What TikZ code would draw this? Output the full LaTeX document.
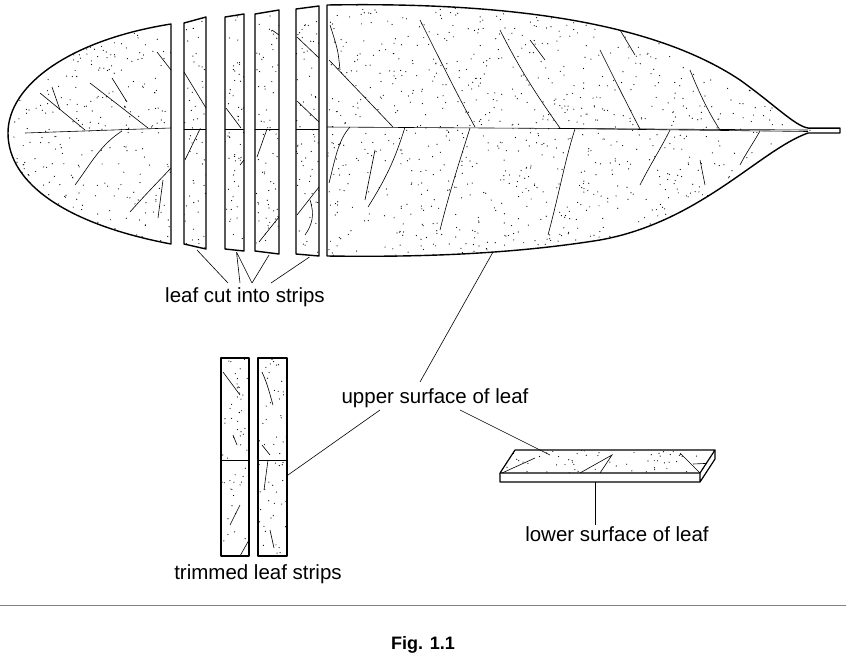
\documentclass[tikz,border=0pt]{standalone}
\usepackage{fontspec}
\setmainfont{Liberation Sans}
\begin{document}
\begin{tikzpicture}[x=1pt,y=-1pt,
  outline/.style={line width=1.4pt,line join=round},
  vein/.style={line width=0.6pt},
  lead/.style={line width=0.6pt},
  lbl/.style={font=\fontsize{20.5}{24}\selectfont,inner sep=1pt}]
\useasboundingbox (0,0) rectangle (846,657);
\pgfmathsetseed{7}
\newcommand{\stipple}[5]{% x0 y0 w h n
  \foreach \k in {1,...,#5}{\pgfmathsetmacro{\px}{#1+rnd*#3}\pgfmathsetmacro{\py}{#2+rnd*#4}\fill (\px,\py) circle (0.6);}}
% left tip
\def\tip{(171,24) .. controls (70,40) and (8,85) .. (8,133) .. controls (8,185) and (70,225) .. (171,244) -- cycle}
\begin{scope}\clip \tip; \stipple{0}{20}{175}{230}{380}
 \draw[vein] (25,133) -- (171,128);
 \draw[vein] (85,130) -- (40,93); \draw[vein] (60,110)--(52,87);
 \draw[vein] (148,128) -- (90,83); \draw[vein] (127,102)--(112,78);
 \draw[vein] (122,131) .. controls (100,145) and (90,165) .. (75,185);
 \draw[vein] (171,168) .. controls (155,185) and (145,195) .. (130,212);
 \draw[vein] (163,180) -- (158,218); \draw[vein] (171,70) -- (157,52);
\end{scope}
\draw[outline] \tip;
% strips
\foreach \n/\a/\b/\ta/\tb/\ba/\bb in {s1/184/206/23/17/244/249, s2/225/244/17/14/249/251, s3/255/279/14/10/251/254, s4/296/319/9/6/254/256}{
  \begin{scope}\clip (\a,\ta) -- (\b,\tb) -- (\b,\bb) -- (\a,\ba) -- cycle;
    \stipple{\a}{5}{25}{255}{70}
    \draw[vein] (\a,129) -- (\b,129);
  \end{scope}
  \draw[outline] (\a,\ta) -- (\b,\tb) -- (\b,\bb) -- (\a,\ba) -- cycle;
  \coordinate (\n) at ({(\a+\b)/2+2},{\bb+1});
}
\draw[vein] (184,72)--(206,108); \draw[vein] (200,129)--(185,160);
\draw[vein] (226,108)--(241,128); \draw[vein] (240,165)--(244,160);
\draw[vein] (267,129)--(257,157); \draw[vein] (272,30)--(279,35); \draw[vein] (259,242)--(279,217);
\draw[vein] (297,37)--(319,58); \draw[vein] (297,101)--(319,122); \draw[vein] (297,215)--(319,187);
\draw[vein] (310,200) .. controls (315,215) and (312,225) .. (305,235);
% main leaf
\def\mainleaf{(327,5) .. controls (500,2) and (650,20) .. (740,80) .. controls (775,105) and (795,126) .. (808,128) -- (840,128) -- (840,133) -- (808,133) .. controls (760,150) and (700,222) .. (600,240) .. controls (500,256) and (400,257) .. (327,256) -- cycle}
\begin{scope}\clip \mainleaf; \stipple{327}{0}{490}{260}{1100}
 \draw[vein] (327,127) -- (808,130); \draw[vein] (560,128.5)--(808,131.5);
 \draw[vein] (329,60) -- (393,127); \draw[vein] (330,25) .. controls (338,50) .. (340,70);
 \draw[vein] (350,127) .. controls (338,140) and (335,160) .. (329,183);
 \draw[vein] (405,127) .. controls (395,160) and (385,180) .. (368,207);
 \draw[vein] (470,128) .. controls (460,160) and (450,190) .. (440,230);
 \draw[vein] (575,129) .. controls (565,160) and (560,190) .. (548,235);
 \draw[vein] (670,130) .. controls (660,150) and (650,165) .. (640,185);
 \draw[vein] (760,131) .. controls (752,145) and (745,155) .. (740,165);
 \draw[vein] (420,20) .. controls (440,60) and (460,100) .. (475,127);
 \draw[vein] (500,30) .. controls (520,70) and (540,100) .. (560,128);
 \draw[vein] (600,50) .. controls (615,80) and (630,110) .. (640,129);
 \draw[vein] (690,70) .. controls (700,95) and (710,115) .. (720,130);
 \draw[vein] (530,40) -- (545,60); \draw[vein] (620,30) -- (635,55);
 \draw[vein] (375,150) -- (365,200); \draw[vein] (700,160) -- (705,185);
\end{scope}
\draw[outline] \mainleaf;
\draw[vein] (808,128) -- (840,128);
% labels
\node[lbl] (cut) at (245,297) {leaf cut into strips};
\coordinate (c1) at (228,283); \coordinate (c2) at (240,283); \coordinate (c3) at (252,283); \coordinate (c4) at (271,283);
\draw[lead] (c1) -- (s1) (c2) -- (s2) (c3) -- (s3) (c4) -- (s4) (c3) -- (s2);
\node[lbl] (up) at (435,398) {upper surface of leaf};
\coordinate (uplf) at (493,252);
\draw[lead] (420,382) -- (uplf);
% trimmed strips
\begin{scope}\clip (221,358) rectangle (249,556) (258,358) rectangle (287,556);
 \stipple{221}{358}{66}{198}{130}
 \draw[vein] (221,460) -- (287,460);
 \draw[vein] (223,372)--(240,395); \draw[vein] (233,435)--(237,445); \draw[vein] (230,525)--(240,505);
 \draw[vein] (262,372) .. controls (268,385) and (270,395) .. (273,405);
 \draw[vein] (262,445)--(270,455); \draw[vein] (268,460)--(264,490); \draw[vein] (270,530)--(274,548);
 \draw[vein] (240,556)--(249,540);
\end{scope}
\draw[outline,line width=1.2pt] (221,358) rectangle (249,556);
\draw[outline,line width=1.2pt] (258,358) rectangle (287,556);
\coordinate (ts) at (288,475);
\draw[lead] (380,410) -- (ts);
\node[lbl] (trim) at (258,574) {trimmed leaf strips};
% box
\begin{scope}\clip (515,450) -- (715,450) -- (700,473) -- (500,473) -- cycle;
 \stipple{500}{450}{215}{23}{60}
 \draw[vein] (502,473) -- (535,458); \draw[vein] (580,473) -- (612,455) -- (600,473);
 \draw[vein] (680,453) -- (700,473); \draw[vein] (693,464) -- (715,463);
\end{scope}
\draw[outline,line width=1.2pt] (515,450) -- (715,450) -- (700,473) -- (500,473) -- cycle;
\draw[outline,line width=1.2pt] (500,473) -- (500,482) -- (700,482) -- (715,459) -- (715,450) (700,473) -- (700,482);
\coordinate (box) at (550,455); \coordinate (boxb) at (595,482);
\draw[lead] (460,410) -- (box);
\node[lbl] (low) at (617,534) {lower surface of leaf};
\draw[lead] (boxb) -- (low.north -| boxb);
\draw[line width=0.5pt,gray] (0,605) -- (846,605);
\node[lbl,font=\fontsize{18}{20}\selectfont\bfseries] (fig) at (423,645) {Fig. 1.1};
\end{tikzpicture}
\end{document}
